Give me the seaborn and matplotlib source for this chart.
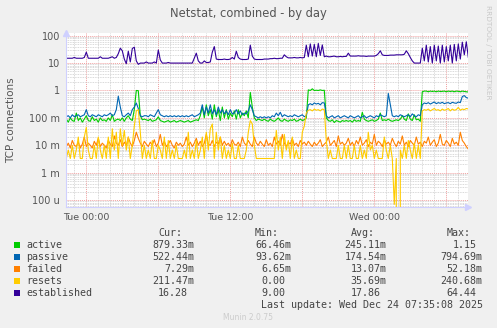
import numpy as np
import pandas as pd
import matplotlib
matplotlib.use("Agg")
import matplotlib.pyplot as plt
import seaborn as sns
from matplotlib.patches import Rectangle
from matplotlib.ticker import FixedLocator, LogLocator, NullFormatter, MultipleLocator

# ---------------- data ----------------
series_names = ["active", "passive", "failed", "resets", "established"]
series_colors = ["#00CC00", "#0066B3", "#FF8000", "#FFCC00", "#330099"]

start_hour = -5.0 / 3.0      # Mon 22:20 relative to Tue 00:00
step_hour = 1.0 / 6.0        # 10 minute samples

established = [
    15, 15, 15, 15, 16, 15, 15, 15, 15, 16, 25, 15, 15, 15, 15, 15, 15, 17, 15, 15,
    15, 15, 16, 17, 15, 16, 22, 35, 28, 14, 9.5, 27, 11, 34, 38, 12, 9, 10, 10, 10,
    11, 10, 10, 10, 11, 10, 30, 13, 10, 10, 10, 10.5, 10, 10, 10, 10, 10, 10, 10, 10,
    10, 10, 10, 10, 15, 23, 12, 10, 10, 12, 10.5, 10.5, 11, 25, 40, 14, 13.5, 13.5, 13.5, 14,
    13.5, 13.5, 14, 16, 14, 27, 16, 14, 13.5, 13.5, 13.5, 14, 45, 18, 14, 13.5, 13.5, 13.5, 13.5, 14,
    14, 14, 14.5, 14.5, 15, 14.5, 14.5, 15, 15, 20, 17, 15.5, 15.5, 15.5, 16, 15.5, 15.5, 16, 15.5, 16,
    45, 17, 50, 18, 48, 17, 52, 19, 46, 17, 18, 17, 17, 17.5, 18, 17, 17, 17.5, 17, 17.5,
    17.5, 23, 18, 18, 18, 18, 18.5, 18, 18, 18, 17.5, 18, 18, 18, 18, 19, 22, 28, 20, 19,
    19, 19, 19.5, 19.5, 19.5, 20, 20, 20, 20, 21, 28, 22, 16, 12, 10, 10, 10, 10, 35, 12,
    45, 11, 40, 10, 45, 12, 42, 10, 45, 11, 40, 12, 45, 10, 48, 12, 50, 14, 58, 20,
    60, 16.28,
]

active = [
    0.09, 0.07, 0.1, 0.08, 0.075, 0.15, 0.08, 0.1, 0.07, 0.09, 0.12, 0.08, 0.075, 0.11, 0.08, 0.09, 0.07, 0.1, 0.08, 0.085,
    0.075, 0.1, 0.08, 0.13, 0.075, 0.085, 0.09, 0.08, 0.1, 0.075, 0.1, 0.12, 0.09, 0.08, 0.2, 1.0, 0.98, 0.12, 0.085, 0.09,
    0.085, 0.08, 0.09, 0.075, 0.08, 0.085, 0.11, 0.08, 0.075, 0.07, 0.075, 0.08, 0.07, 0.075, 0.08, 0.07, 0.075, 0.08, 0.075, 0.07,
    0.075, 0.08, 0.07, 0.075, 0.08, 0.085, 0.08, 0.12, 0.25, 0.1, 0.3, 0.12, 0.2, 0.09, 0.3, 0.11, 0.2, 0.08, 0.25, 0.1,
    0.2, 0.09, 0.15, 0.11, 0.18, 0.09, 0.2, 0.1, 0.15, 0.12, 0.18, 0.1, 0.85, 0.25, 0.1, 0.08, 0.09, 0.085, 0.08, 0.09,
    0.08, 0.075, 0.09, 0.08, 0.075, 0.085, 0.1, 0.08, 0.075, 0.09, 0.08, 0.075, 0.085, 0.08, 0.09, 0.075, 0.08, 0.09, 0.08, 0.085,
    0.1, 1.05, 1.0, 1.15, 1.0, 1.02, 1.0, 1.05, 1.0, 1.02, 0.1, 0.08, 0.075, 0.085, 0.068, 0.08, 0.075, 0.07, 0.08, 0.075,
    0.08, 0.075, 0.08, 0.07, 0.085, 0.075, 0.08, 0.075, 0.16, 0.09, 0.08, 0.075, 0.08, 0.085, 0.075, 0.08, 0.09, 0.15, 0.08, 0.085,
    0.08, 0.09, 0.08, 0.075, 0.08, 0.085, 0.08, 0.09, 0.12, 0.09, 0.08, 0.14, 0.09, 0.08, 0.13, 0.085, 0.09, 0.075, 0.9, 0.95,
    0.95, 0.9, 0.95, 0.92, 0.95, 0.9, 0.95, 0.92, 0.93, 0.95, 0.9, 0.95, 0.92, 0.95, 0.9, 0.95, 0.93, 0.9, 0.95, 0.92,
    0.9, 0.879,
]

passive = [
    0.11, 0.12, 0.1, 0.13, 0.11, 0.12, 0.13, 0.11, 0.12, 0.13, 0.2, 0.12, 0.11, 0.13, 0.12, 0.11, 0.13, 0.12, 0.11, 0.13,
    0.12, 0.13, 0.15, 0.12, 0.13, 0.2, 0.62, 0.25, 0.12, 0.11, 0.13, 0.15, 0.12, 0.2, 0.25, 0.35, 0.22, 0.12, 0.11, 0.12,
    0.12, 0.11, 0.13, 0.12, 0.11, 0.15, 0.2, 0.13, 0.12, 0.11, 0.12, 0.11, 0.12, 0.11, 0.12, 0.11, 0.12, 0.11, 0.12, 0.11,
    0.12, 0.11, 0.12, 0.13, 0.11, 0.12, 0.13, 0.15, 0.3, 0.13, 0.25, 0.15, 0.3, 0.14, 0.2, 0.13, 0.25, 0.15, 0.2, 0.14,
    0.18, 0.13, 0.2, 0.14, 0.15, 0.2, 0.14, 0.18, 0.13, 0.15, 0.14, 0.18, 0.3, 0.2, 0.12, 0.11, 0.1, 0.11, 0.1, 0.11,
    0.1, 0.11, 0.1, 0.12, 0.11, 0.15, 0.12, 0.16, 0.11, 0.13, 0.12, 0.11, 0.12, 0.11, 0.13, 0.12, 0.11, 0.12, 0.13, 0.11,
    0.12, 0.3, 0.33, 0.3, 0.35, 0.32, 0.34, 0.3, 0.36, 0.35, 0.12, 0.1, 0.11, 0.12, 0.1, 0.11, 0.12, 0.1, 0.11, 0.12,
    0.11, 0.1, 0.12, 0.11, 0.1, 0.11, 0.12, 0.1, 0.11, 0.12, 0.1, 0.11, 0.12, 0.11, 0.1, 0.12, 0.11, 0.13, 0.12, 0.11,
    0.12, 0.78, 0.3, 0.12, 0.11, 0.12, 0.11, 0.13, 0.12, 0.11, 0.12, 0.13, 0.11, 0.14, 0.12, 0.11, 0.13, 0.12, 0.3, 0.35,
    0.33, 0.36, 0.32, 0.35, 0.38, 0.33, 0.36, 0.34, 0.37, 0.33, 0.35, 0.36, 0.33, 0.37, 0.35, 0.34, 0.38, 0.36, 0.6, 0.65,
    0.55, 0.522,
]

failed = [
    0.009, 0.012, 0.008, 0.015, 0.01, 0.009, 0.013, 0.008, 0.011, 0.02, 0.009, 0.012, 0.01, 0.008, 0.014, 0.01, 0.018, 0.009, 0.012, 0.01,
    0.008, 0.015, 0.011, 0.009, 0.022, 0.012, 0.01, 0.016, 0.009, 0.013, 0.01, 0.02, 0.012, 0.009, 0.015, 0.03, 0.018, 0.012, 0.009, 0.014,
    0.011, 0.009, 0.013, 0.01, 0.016, 0.009, 0.012, 0.025, 0.01, 0.014, 0.009, 0.011, 0.015, 0.01, 0.008, 0.013, 0.01, 0.012, 0.009, 0.011,
    0.02, 0.01, 0.013, 0.009, 0.012, 0.018, 0.01, 0.014, 0.009, 0.012, 0.025, 0.011, 0.01, 0.015, 0.009, 0.013, 0.011, 0.02, 0.01, 0.014,
    0.01, 0.012, 0.009, 0.016, 0.011, 0.01, 0.013, 0.009, 0.02, 0.012, 0.01, 0.015, 0.011, 0.009, 0.02, 0.012, 0.01, 0.014, 0.011, 0.009,
    0.016, 0.01, 0.012, 0.009, 0.02, 0.011, 0.014, 0.01, 0.025, 0.012, 0.009, 0.013, 0.011, 0.018, 0.01, 0.012, 0.009, 0.015, 0.011, 0.013,
    0.01, 0.014, 0.011, 0.009, 0.013, 0.01, 0.012, 0.016, 0.009, 0.011, 0.013, 0.02, 0.01, 0.012, 0.015, 0.009, 0.022, 0.011, 0.013, 0.01,
    0.012, 0.018, 0.01, 0.013, 0.009, 0.015, 0.011, 0.02, 0.01, 0.012, 0.016, 0.009, 0.013, 0.011, 0.025, 0.01, 0.014, 0.012, 0.009, 0.016,
    0.011, 0.013, 0.01, 0.018, 0.012, 0.009, 0.014, 0.011, 0.022, 0.01, 0.013, 0.009, 0.015, 0.012, 0.01, 0.02, 0.011, 0.013, 0.009, 0.014,
    0.012, 0.02, 0.01, 0.013, 0.016, 0.009, 0.012, 0.025, 0.011, 0.01, 0.015, 0.012, 0.009, 0.018, 0.011, 0.013, 0.01, 0.03, 0.015, 0.012,
    0.009, 0.00729,
]

resets = [
    0.0033, 0.0067, 0.0033, 0.01, 0.0033, 0.0067, 0.02, 0.0033, 0.0033, 0.02, 0.045, 0.0067, 0.0033, 0.0033, 0.01, 0.0033, 0.02, 0.0067, 0.0033, 0.01,
    0.0033, 0.02, 0.0033, 0.04, 0.0067, 0.03, 0.0033, 0.04, 0.01, 0.035, 0.0067, 0.02, 0.0033, 0.01, 0.05, 0.18, 0.2, 0.03, 0.0033, 0.01,
    0.0033, 0.0067, 0.0033, 0.015, 0.0033, 0.0033, 0.01, 0.0067, 0.0033, 0.02, 0.0033, 0.015, 0.0033, 0.0067, 0.0033, 0.01, 0.0033, 0.0033, 0.0033, 0.0067,
    0.0033, 0.03, 0.0033, 0.0067, 0.0033, 0.015, 0.0033, 0.0067, 0.02, 0.0033, 0.03, 0.0067, 0.04, 0.06, 0.0033, 0.03, 0.0067, 0.02, 0.0033, 0.01,
    0.0033, 0.0067, 0.0033, 0.012, 0.0033, 0.0033, 0.01, 0.0033, 0.0033, 0.0033, 0.0067, 0.03, 0.08, 0.06, 0.01, 0.0033, 0.0033, 0.0033, 0.0033, 0.0033,
    0.0033, 0.0033, 0.0033, 0.0033, 0.0033, 0.035, 0.0067, 0.02, 0.0033, 0.025, 0.0067, 0.015, 0.0033, 0.02, 0.0033, 0.0067, 0.0033, 0.0033, 0.03, 0.05,
    0.15, 0.19, 0.2, 0.18, 0.21, 0.19, 0.2, 0.18, 0.21, 0.2, 0.015, 0.0033, 0.0067, 0.0033, 0.0033, 0.0033, 0.01, 0.0033, 0.0033, 0.01,
    0.0033, 0.01, 0.0033, 0.0033, 0.01, 0.0033, 0.0033, 0.01, 0.0033, 0.0067, 0.0033, 0.03, 0.0067, 0.01, 0.0033, 0.0067, 0.0033, 0.0033, 0.0033, 0.02,
    0.0067, 0.0033, 0.01, 0.0033, 0.00007, 0.0033, 0.0, 0.0067, 0.0033, 0.01, 0.0033, 0.015, 0.0067, 0.0033, 0.012, 0.0033, 0.01, 0.0033, 0.18, 0.2,
    0.19, 0.21, 0.18, 0.2, 0.22, 0.19, 0.2, 0.18, 0.21, 0.19, 0.2, 0.22, 0.18, 0.21, 0.19, 0.2, 0.2407, 0.19, 0.21, 0.2,
    0.22, 0.2115,
]

x_tick_hours = [0, 12, 24]
x_tick_labels = ["Tue 00:00", "Tue 12:00", "Wed 00:00"]
y_tick_values = [1e-4, 1e-3, 1e-2, 1e-1, 1, 10, 100]
y_tick_labels = ["100 u", "1 m", "10 m", "100 m", "1", "10", "100"]

legend_cur = ["879.33m", "522.44m", "7.29m", "211.47m", "16.28"]
legend_min = ["66.46m", "93.62m", "6.65m", "0.00", "9.00"]
legend_avg = ["245.11m", "174.54m", "13.07m", "35.69m", "17.86"]
legend_max = ["1.15", "794.69m", "52.18m", "240.68m", "64.44"]

# ---------------- frame ----------------
series_values = [active, passive, failed, resets, established]
frames = []
for name, vals in zip(series_names, series_values):
    hours = start_hour + step_hour * np.arange(len(vals))
    frames.append(pd.DataFrame({"hour": hours, "value": vals, "series": name}))
df = pd.concat(frames, ignore_index=True)

W, H = 497, 328
fig = plt.figure(figsize=(W / 100, H / 100), dpi=100)
fig.patch.set_facecolor("#F0F0F0")

left_px, right_px, top_px, bottom_px = 65.7, 468.3, 33.3, 207.0
ax = fig.add_axes([left_px / W, 1 - bottom_px / H, (right_px - left_px) / W, (bottom_px - top_px) / H])
ax.set_facecolor("white")

sns.lineplot(data=df, x="hour", y="value", hue="series", hue_order=series_names,
             palette=dict(zip(series_names, series_colors)), estimator=None,
             sort=False, linewidth=0.8, legend=False, ax=ax)

ax.set_yscale("log")
ax.set_ylim(5.6e-5, 122)
ax.set_xlim((left_px - 86.3) / 12.0, (right_px - 86.3) / 12.0)

# grid
ax.yaxis.set_major_locator(FixedLocator(y_tick_values))
ax.set_yticklabels(y_tick_labels)
ax.yaxis.set_minor_locator(LogLocator(base=10, subs=np.arange(2, 10)))
ax.yaxis.set_minor_formatter(NullFormatter())
ax.xaxis.set_minor_locator(MultipleLocator(1))
ax.set_xticks([0, 6, 12, 18, 24, 30])
ax.set_xticklabels([x_tick_labels[0], "", x_tick_labels[1], "", x_tick_labels[2], ""])

ax.grid(which="minor", color="#cccccc", linestyle=(0, (1, 1)), linewidth=0.6)
ax.grid(which="major", color="#f0a0a0", linestyle=(0, (1, 1)), linewidth=0.7)
ax.set_axisbelow(True)

ax.tick_params(which="both", length=0)
ax.tick_params(axis="y", labelsize=7, labelcolor="#555555", pad=4)
ax.tick_params(axis="x", labelsize=6.8, labelcolor="#555555", pad=4)

for s in ["top", "right"]:
    ax.spines[s].set_visible(False)
for s in ["left", "bottom"]:
    ax.spines[s].set_color("#cfd0ff")
    ax.spines[s].set_linewidth(0.8)
ax.set_xlabel("")
ax.set_ylabel("")

# axis arrows
ax.plot([0], [1.0], marker="^", color="#cfd0ff", markersize=4, transform=ax.transAxes, clip_on=False)
ax.plot([1.0], [0], marker=">", color="#cfd0ff", markersize=4, transform=ax.transAxes, clip_on=False)

# texts
def fx(px):
    return px / W

def fy(py):
    return 1 - py / H

fig.text(fx(248), fy(13), "Netstat, combined - by day", ha="center", va="center",
         fontsize=8.3, color="#555555")
fig.text(fx(10.8), fy(120), "TCP connections", ha="center", va="center",
         rotation=90, fontsize=7.5, color="#555555")
fig.text(fx(488), fy(5), "RRDTOOL / TOBI OETIKER", ha="center", va="top",
         rotation=270, fontsize=5.3, color="#c8c8c8")

mono = "DejaVu Sans Mono"
fs = 7.2
txt_color = "#444444"
char_w = 6.0
col_right = [194.0, 291.0, 386.7, 482.7]
headers = ["Cur:", "Min:", "Avg:", "Max:"]
head_y = 232.7
for hdr, cr in zip(headers, col_right):
    fig.text(fx(cr - 2 * char_w), fy(head_y), hdr, ha="right", va="center",
             family=mono, fontsize=fs, color=txt_color)

row_y = [244.5, 256.6, 268.6, 280.6, 292.5]
for i, name in enumerate(series_names):
    y = row_y[i]
    fig.add_artist(Rectangle((fx(14), fy(y + 3)), 6 / W, 6 / H, transform=fig.transFigure,
                             facecolor=series_colors[i], edgecolor="none"))
    fig.text(fx(26), fy(y), name, ha="left", va="center", family=mono, fontsize=fs, color=txt_color)
    for vals, cr in zip([legend_cur, legend_min, legend_avg, legend_max], col_right):
        v = vals[i]
        off = 0 if v.endswith("m") else char_w
        fig.text(fx(cr - off), fy(y), v, ha="right", va="center", family=mono,
                 fontsize=fs, color=txt_color)

fig.text(fx(482.7), fy(304.7), "Last update: Wed Dec 24 07:35:08 2025", ha="right", va="center",
         family=mono, fontsize=fs, color=txt_color)
fig.text(fx(248), fy(317), "Munin 2.0.75", ha="center", va="center", fontsize=5.5, color="#cccccc")

fig.savefig("out.png", dpi=100, facecolor=fig.get_facecolor())
